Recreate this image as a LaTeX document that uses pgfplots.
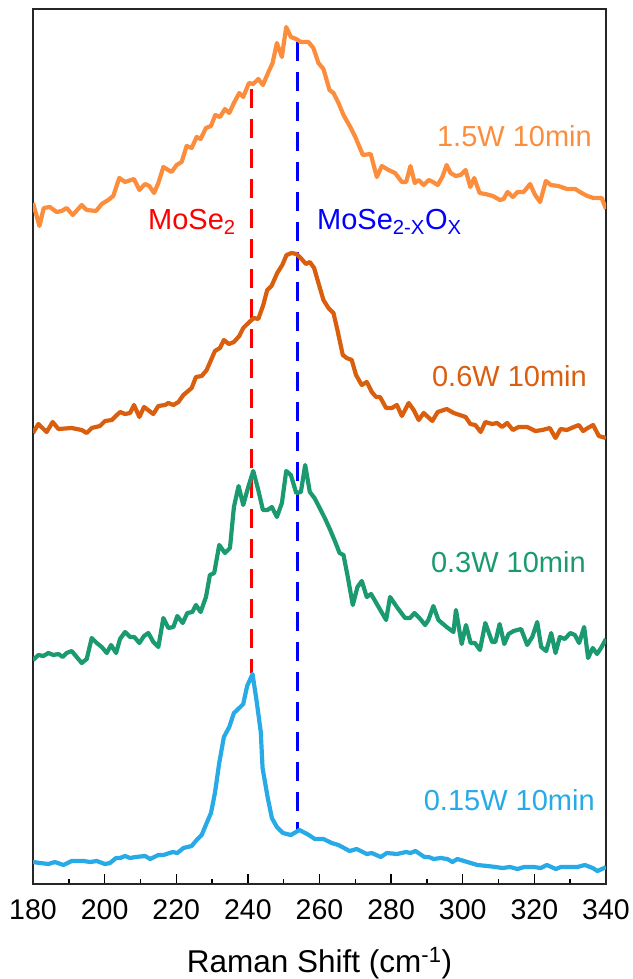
\documentclass[border=0pt]{standalone}
\usepackage{pgfplots}
\pgfplotsset{compat=1.18}
\usepackage{fontspec}
\setmainfont{Liberation Sans}
\definecolor{corA}{HTML}{FB8D3D}
\definecolor{corB}{HTML}{D95F0E}
\definecolor{corC}{HTML}{1B9A72}
\definecolor{corD}{HTML}{27AAE6}
\begin{document}
\begin{tikzpicture}
\path[use as bounding box] (0,0) rectangle (632pt,979pt);
\begin{axis}[
  at={(33pt,95pt)}, anchor=south west,
  scale only axis, width=573pt, height=875pt,
  xmin=180, xmax=340, ymin=9, ymax=884, y dir=reverse,
  ytick=\empty,
  xtick={180,200,...,340}, minor x tick num=1,
  xtick pos=bottom, tick align=inside,
  major tick length=10.5pt, minor tick length=5pt,
  every tick/.style={black, line width=1.4pt},
  axis line style={line width=1.8pt, black!85},
  /pgf/number format/assume math mode=true,
  xticklabel style={font=\fontsize{28.5}{28.5}\selectfont, anchor=base, yshift=-35pt, inner sep=0pt},
  xlabel={Raman Shift (cm\textsuperscript{-1})},
  xlabel style={font=\fontsize{31.5}{31.5}\selectfont, at={(axis description cs:0.5,0)}, anchor=base, yshift=-88pt, inner sep=0pt},
  clip=true,
]
% dashed reference lines
\addplot[red, line width=2.8pt, dash pattern=on 19pt off 11pt] coordinates {(241.1,89) (241.1,673)};
\addplot[blue, line width=2.8pt, dash pattern=on 19pt off 11pt] coordinates {(253.9,42) (253.9,830)};
% 1.5W
\addplot[corA, line width=4.2pt, line join=round] coordinates {
(180,203) (181.8,226) (183,208) (184.7,207) (186.6,212) (188,211) (189.4,208) (191.1,215)
(193.6,205) (195,210) (197.6,211) (199.2,204) (201,200) (202.4,196) (204.1,178) (205.7,182)
(208.2,179) (209.7,190) (211.3,184) (212.5,186) (213.8,193) (215,183) (216.4,167) (218.7,172)
(220.1,165) (221.5,162) (222.9,146) (224.3,148) (225.7,137) (226.8,139) (228.3,128) (229.7,126)
(230.9,115) (232.2,117) (233.6,109) (234.8,113) (236.1,103) (237.6,93) (238.7,97) (240.3,83)
(241.5,84) (242.9,79) (244.2,85) (245.5,74) (246.9,63) (248.1,43) (249.5,57) (250.7,27)
(252,37) (253.5,39) (254.8,42) (256.9,42) (258.3,48) (259.7,63) (261.1,69) (262.8,90)
(263.9,93) (265.3,103) (266.7,115) (268.6,127) (270,137) (272.1,155) (274.3,154) (276,177)
(277.4,166) (279.3,170) (281.1,173) (283,182) (284.2,182) (285.4,166) (286.6,183) (287.7,180)
(289.1,185) (290.5,180) (291.7,182) (293,185) (294.3,177) (295.5,165) (296.6,173) (298,176)
(299.4,175) (300.8,170) (302.1,187) (303.2,178) (304.7,193) (306.3,194) (308.4,196) (310.4,200)
(311.4,199) (312.5,192) (314,197) (315.3,192) (317,192) (318.8,184) (320.2,195) (321.6,202)
(323.2,181) (324.6,185) (326.7,186) (329.1,189) (331.4,189) (333.2,193) (334.8,196) (336.5,198)
(338.8,198) (340,209)
};
% 0.6W
\addplot[corB, line width=4.2pt, line join=round] coordinates {
(180,433) (181.5,424) (183.8,432) (185.5,422) (187.1,429) (190.8,428) (193.6,430) (195,433)
(196.4,428) (198.7,426) (200.1,421) (202,420) (204.3,412) (205.7,414) (207.1,413) (208.2,405)
(209.7,417) (211,407) (213.6,414) (215,406) (216.9,405) (217.8,403) (219.2,405) (220.6,402)
(222,395) (224.3,388) (225.5,377) (227.1,376) (228.5,370) (230.8,351) (232.2,348) (233.3,340)
(234.7,344) (236.1,342) (237.6,336) (238.7,328) (240.4,322) (241.7,318) (242.9,319) (244.3,305)
(245.4,290) (246.6,286) (248.2,273) (249.6,265) (250.8,255) (252.2,253) (253.6,254) (255,259)
(256.2,264) (257.3,262) (258.5,268) (259.7,283) (261.1,300) (262.5,308) (263.9,313) (265,330)
(266.5,355) (267.6,358) (269,360) (270.2,375) (271.8,385) (273.2,382) (274.6,392) (275.8,397)
(276.9,397) (278.6,408) (280.2,408) (281.6,405) (283,416) (284.9,403) (286.3,410) (287.7,420)
(289.1,413) (291.5,421) (293,412) (295.5,409) (297.5,413) (300.8,417) (302.1,424) (303.5,425)
(305,432) (306.3,422) (308.2,424) (309.6,423) (311,427) (312.4,423) (314,430) (315.6,427)
(318,427) (320.3,431) (322.2,430) (324.3,428) (325.9,438) (327.3,429) (329.1,430) (331,427)
(332.4,425) (333.6,431) (334.9,428) (336.4,425) (338,436) (340,438)
};
% 0.3W
\addplot[corC, line width=4.2pt, line join=round] coordinates {
(180,660) (181.5,655) (182.9,656) (184.3,653) (185.7,655) (187.1,654) (188.3,657) (189.4,653)
(190.8,651) (192.2,657) (193.6,663) (195,659) (196.4,638) (197.8,643) (199.2,647) (200.6,653)
(201.8,645) (203.2,653) (204.3,639) (205.7,632) (207.1,637) (208.3,637) (209.7,643) (211,636)
(212.2,633) (213.6,642) (215,647) (216.4,618) (217.8,628) (219.2,627) (220.3,616) (221.8,623)
(223.1,613) (224.5,612) (225.5,605) (226.8,612) (228.3,597) (229.4,575) (230.6,573) (232,545)
(233.6,553) (235,548) (236.1,507) (237.4,486) (238.7,505) (240.1,487) (241.5,471) (242.9,490)
(244.2,510) (245.5,510) (246.7,507) (248.1,517) (249.5,503) (250.7,471) (252,475) (253.5,493)
(254.8,492) (256,465) (257.3,492) (258.6,498) (260.2,509) (261.6,519) (263,530) (264.4,542)
(265.6,553) (266.7,555) (267.9,577) (269.3,605) (270.6,587) (271.8,581) (273.2,597) (274.4,594)
(276.5,607) (278.6,620) (279.7,597) (281.8,608) (283.9,618) (285.3,618) (286.5,613) (287.9,618)
(289.5,625) (290.4,620) (291.8,606) (293.2,620) (295.5,627) (297.4,632) (298.1,610) (299.7,644)
(300.9,625) (302.2,643) (303.4,643) (304.8,650) (306.3,623) (308.2,642) (309.1,642) (310.3,624)
(311.6,644) (312.8,634) (314.2,631) (316.3,629) (318,645) (319.4,637) (320.8,622) (321.9,647)
(323.3,651) (324.7,633) (325.9,653) (327.1,637) (328.5,639) (330,633) (331.3,635) (332.5,643)
(333.9,627) (335,658) (336.3,648) (337.5,654) (338.6,648) (340,639)
};
% 0.15W
\addplot[corD, line width=4.2pt, line join=round] coordinates {
(180,862) (182,863) (184.3,864) (186.1,862) (188.5,865) (190.8,861) (194.1,861) (196,862)
(197.8,861) (200.1,864) (201.5,863) (203.2,858) (204.3,858) (205.7,856) (207.1,858) (208.7,857)
(211.3,856) (212.7,859) (215,855) (216.4,855) (219,852) (220.3,853) (222,848) (224.3,846)
(225.7,840) (227.1,835) (228.5,823) (229.7,813) (230.8,793) (232,763) (233.3,737) (234.8,727)
(236.1,713) (237.3,709) (238.7,704) (239.8,686) (241.3,674) (242.4,700) (243.6,732) (244.1,768)
(245.5,797) (246.7,818) (248.1,827) (249.8,833) (252,835) (254.4,830) (256.8,834.5) (258.7,839)
(261.1,839) (263.4,843) (265.3,845) (268.4,851) (270.4,849) (273.2,854) (274.6,853) (277.1,857)
(278.8,853) (281.6,854) (284.2,852) (285.4,853) (286.8,851) (289.3,857) (290.5,857) (291.9,859)
(293.8,858) (295.7,859) (297.1,862) (298.5,859) (301.3,862) (304.1,865) (306.9,866) (309.2,867)
(311.1,868) (313.2,867) (315.3,869) (317.1,867) (319.9,867) (321.8,868) (323.5,865) (326,869)
(327.4,867) (329.7,867) (332,867) (334.1,865) (336.3,868) (337.6,871) (339.5,868) (340,867)
};
% labels
\node[corA, anchor=base east, inner sep=0pt, font=\fontsize{29}{29}\selectfont] at (axis cs:336.1,147) {1.5W 10min};
\node[corB, anchor=base east, inner sep=0pt, font=\fontsize{29}{29}\selectfont] at (axis cs:334.7,386) {0.6W 10min};
\node[corC, anchor=base east, inner sep=0pt, font=\fontsize{29}{29}\selectfont] at (axis cs:334.4,572) {0.3W 10min};
\node[corD, anchor=base east, inner sep=0pt, font=\fontsize{29}{29}\selectfont] at (axis cs:336.9,810) {0.15W 10min};
\node[red, anchor=base west, inner sep=0pt, font=\fontsize{29}{29}\selectfont] at (axis cs:212.1,229) {MoSe\textsubscript{2}};
\node[blue, anchor=base west, inner sep=0pt, font=\fontsize{29}{29}\selectfont] at (axis cs:259.3,229) {MoSe\textsubscript{2-X}O\textsubscript{X}};
\end{axis}
\end{tikzpicture}
\end{document}
